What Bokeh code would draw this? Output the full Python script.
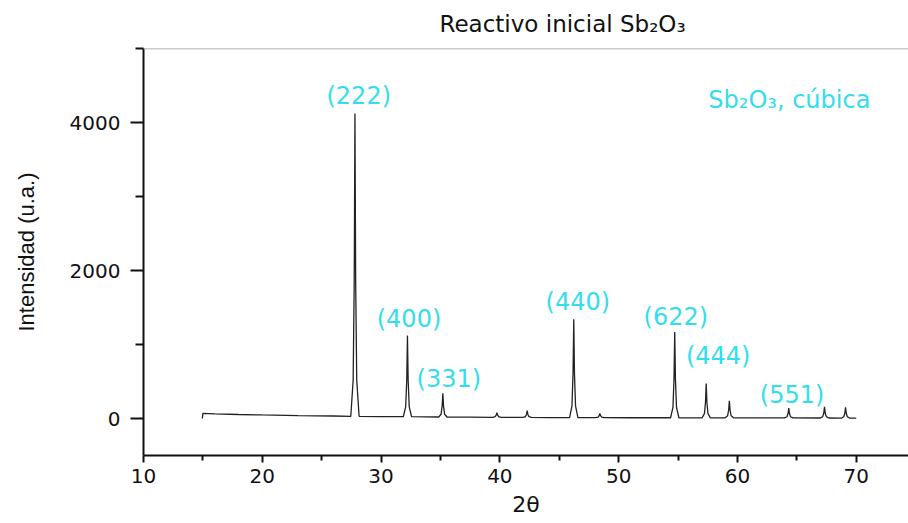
import math
from bokeh.plotting import figure
from bokeh.models import Range1d, FixedTicker, Label, Span, Title
from bokeh.embed import file_html
from bokeh.resources import INLINE

two_theta = [
    14.95, 15.00, 16.0, 18.0, 20.0, 23.0, 26.0,
    27.45, 27.65, 27.74, 27.80, 27.86, 27.95, 28.15,
    30.0,
    31.87, 32.07, 32.16, 32.22, 32.28, 32.37, 32.57,
    34.85, 35.05, 35.14, 35.20, 35.26, 35.35, 35.55,
    37.5,
    39.40, 39.60, 39.69, 39.75, 39.81, 39.90, 40.10,
    41.95, 42.15, 42.24, 42.30, 42.36, 42.45, 42.65,
    44.0,
    45.87, 46.07, 46.16, 46.22, 46.28, 46.37, 46.57,
    48.07, 48.27, 48.36, 48.42, 48.48, 48.57, 48.77,
    51.0,
    54.37, 54.57, 54.66, 54.72, 54.78, 54.87, 55.07,
    57.02, 57.22, 57.31, 57.37, 57.43, 57.52, 57.72,
    58.97, 59.17, 59.26, 59.32, 59.38, 59.47, 59.67,
    62.0,
    63.97, 64.17, 64.26, 64.32, 64.38, 64.47, 64.67,
    66.98, 67.18, 67.27, 67.33, 67.39, 67.48, 67.68,
    68.75, 68.95, 69.04, 69.10, 69.16, 69.25, 69.45,
    70.0,
]
intensity = [
    0, 70, 62, 54, 48, 40, 34,
    30, 521, 1870, 4120, 1870, 521, 30,
    26,
    24, 156, 517, 1120, 517, 156, 24,
    20, 58, 164, 340, 164, 58, 20,
    18,
    16, 24, 45, 80, 45, 24, 16,
    14, 25, 55, 105, 55, 25, 14,
    13,
    12, 171, 610, 1340, 610, 171, 12,
    11, 18, 38, 70, 38, 18, 11,
    10,
    10, 149, 532, 1170, 532, 149, 10,
    9, 65, 217, 472, 217, 65, 9,
    9, 37, 113, 240, 113, 37, 9,
    8,
    8, 24, 67, 140, 67, 24, 8,
    7, 25, 75, 158, 75, 25, 7,
    6, 23, 71, 150, 71, 23, 6,
    6,
]
hkl_labels = ["(222)", "(400)", "(331)", "(440)", "(622)", "(444)", "(551)"]
x_major_ticks = [10, 20, 30, 40, 50, 60, 70]
x_minor_ticks = [15, 25, 35, 45, 55, 65]
y_major_ticks = [0, 2000, 4000]
y_minor_ticks = [1000, 3000, 5000]

title_text = "Reactivo inicial Sb\u2082O\u2083"
phase_text = "Sb\u2082O\u2083, c\u00fabica"
x_title = "2\u03b8"
y_title = "Intensidad (u.a.)"

CYAN = "#33DDEE"
FONT = "DejaVu Sans"
INK = "#111111"

p = figure(width=908, height=523, output_backend="svg", toolbar_location=None,
           x_range=Range1d(10, 74.4), y_range=Range1d(-500, 5000),
           min_border_left=143, min_border_right=0, min_border_top=48,
           min_border_bottom=68)
p.title = Title(text=title_text, align="left", offset=296, text_font=FONT,
                text_font_size="23px", text_font_style="normal",
                text_color=INK, standoff=20, vertical_align="top")
p.grid.visible = False
p.outline_line_color = None
p.background_fill_color = "white"
p.border_fill_color = "white"

p.line(two_theta, intensity, line_color="#222222", line_width=1.3)

# top frame line
p.add_layout(Span(location=5000, dimension="width", line_color="#9a9a9a", line_width=1.5))

# axes
xa = p.xaxis[0]
xa.ticker = FixedTicker(ticks=x_major_ticks, minor_ticks=x_minor_ticks)
xa.axis_line_width = 2
xa.axis_line_color = INK
xa.major_tick_line_color = INK
xa.minor_tick_line_color = INK
xa.major_tick_line_width = 2
xa.minor_tick_line_width = 2
xa.major_tick_in = 0
xa.major_tick_out = 7
xa.minor_tick_in = 0
xa.minor_tick_out = 5
xa.major_label_text_font = FONT
xa.major_label_text_font_size = "20px"
xa.major_label_text_color = INK
xa.major_label_standoff = 6
xa.axis_label = x_title
xa.axis_label_text_font = FONT
xa.axis_label_text_font_size = "22px"
xa.axis_label_text_font_style = "normal"
xa.axis_label_text_color = INK
xa.axis_label_standoff = 6

ya = p.yaxis[0]
ya.ticker = FixedTicker(ticks=y_major_ticks, minor_ticks=y_minor_ticks)
ya.axis_line_width = 2
ya.axis_line_color = INK
ya.major_tick_line_color = INK
ya.minor_tick_line_color = INK
ya.major_tick_line_width = 2
ya.minor_tick_line_width = 2
ya.major_tick_in = 0
ya.major_tick_out = 13
ya.minor_tick_in = 0
ya.minor_tick_out = 8
ya.major_label_text_font = FONT
ya.major_label_text_font_size = "20px"
ya.major_label_text_color = INK
ya.major_label_standoff = 10
ya.axis_label = y_title
ya.axis_label_text_font = "Liberation Sans"
ya.axis_label_text_font_size = "22px"
ya.axis_label_text_font_style = "normal"
ya.axis_label_text_color = INK
ya.axis_label_standoff = 28

# hkl annotations
hkl_pos = [(28.12, 4355), (32.35, 1350), (35.70, 531), (46.56, 1580),
           (54.81, 1377), (58.38, 849), (64.60, 321)]
for t, (lx, ly) in zip(hkl_labels, hkl_pos):
    p.add_layout(Label(x=lx, y=ly, text=t, text_font=FONT, text_font_size="24px",
                       text_color=CYAN, text_align="center", text_baseline="middle"))

p.add_layout(Label(x=64.37, y=4302, text=phase_text, text_font=FONT,
                   text_font_size="24px", text_color=CYAN,
                   text_align="center", text_baseline="middle"))

open("out.html", "w").write(file_html(p, INLINE))
